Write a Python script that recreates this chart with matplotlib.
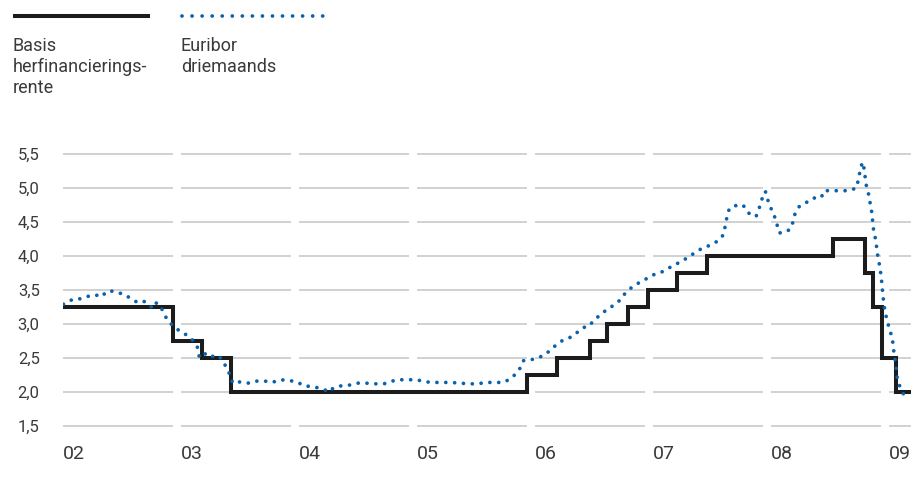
import matplotlib
matplotlib.use("Agg")
import matplotlib.pyplot as plt
from matplotlib.lines import Line2D

plt.rcParams['font.family'] = ['Roboto', 'DejaVu Sans']

# Basis herfinancieringsrente (stappen), jaar als decimaal
refi_x = [2002.0, 2002.930, 2003.175, 2003.424, 2005.930, 2006.184, 2006.462,
          2006.607, 2006.785, 2006.955, 2007.201, 2007.455, 2008.528, 2008.797,
          2008.867, 2008.943, 2009.059, 2009.19]
refi_y = [3.25, 2.75, 2.50, 2.00, 2.25, 2.50, 2.75, 3.00, 3.25, 3.50, 3.75,
          4.00, 4.25, 3.75, 3.25, 2.50, 2.00, 2.00]

# Euribor driemaands
eur_x = [2002.003, 2002.045, 2002.093, 2002.153, 2002.218, 2002.271, 2002.328,
         2002.364, 2002.398, 2002.460, 2002.517, 2002.568, 2002.616, 2002.667,
         2002.718, 2002.760, 2002.788, 2002.825, 2002.850, 2002.884, 2002.921,
         2002.958, 2002.997, 2003.059, 2003.104, 2003.138, 2003.153, 2003.181,
         2003.209, 2003.254, 2003.314, 2003.350, 2003.381, 2003.415, 2003.438,
         2003.506, 2003.574, 2003.636, 2003.712, 2003.771, 2003.842, 2003.910,
         2003.981, 2004.042, 2004.108, 2004.164, 2004.220, 2004.254, 2004.291,
         2004.356, 2004.424, 2004.494, 2004.568, 2004.644, 2004.720, 2004.786,
         2004.856, 2004.926, 2004.997, 2005.068, 2005.138, 2005.214, 2005.288,
         2005.364, 2005.441, 2005.511, 2005.585, 2005.661, 2005.731, 2005.788,
         2005.833, 2005.873, 2005.901, 2005.958, 2006.019, 2006.079, 2006.133,
         2006.184, 2006.235, 2006.269, 2006.319, 2006.367, 2006.415, 2006.460,
         2006.500, 2006.559, 2006.613, 2006.672, 2006.726, 2006.763, 2006.814,
         2006.875, 2006.938, 2006.997, 2007.059, 2007.121, 2007.181, 2007.243,
         2007.303, 2007.358, 2007.421, 2007.489, 2007.548, 2007.596, 2007.613,
         2007.627, 2007.647, 2007.701, 2007.743, 2007.780, 2007.816, 2007.873,
         2007.901, 2007.921, 2007.952, 2007.969, 2007.992, 2008.020, 2008.048,
         2008.059, 2008.070, 2008.104, 2008.161, 2008.184, 2008.203, 2008.240,
         2008.302, 2008.353, 2008.426, 2008.449, 2008.514, 2008.585, 2008.661,
         2008.723, 2008.740, 2008.754, 2008.774, 2008.791, 2008.799, 2008.811,
         2008.831, 2008.842, 2008.856, 2008.862, 2008.871, 2008.890, 2008.896,
         2008.909, 2008.924, 2008.932, 2008.941, 2008.947, 2008.956, 2008.969,
         2008.986, 2009.008, 2009.028, 2009.037, 2009.059, 2009.065, 2009.085,
         2009.116, 2009.150]
eur_y = [3.29, 3.33, 3.37, 3.37, 3.41, 3.43, 3.40, 3.47, 3.49, 3.46, 3.44, 3.38,
         3.33, 3.35, 3.30, 3.23, 3.31, 3.27, 3.17, 3.06, 2.99, 2.94, 2.88, 2.83,
         2.75, 2.66, 2.53, 2.50, 2.57, 2.52, 2.54, 2.47, 2.37, 2.25, 2.13, 2.15,
         2.13, 2.16, 2.16, 2.14, 2.18, 2.17, 2.15, 2.09, 2.08, 2.06, 2.03, 2.00,
         2.06, 2.09, 2.10, 2.13, 2.13, 2.12, 2.12, 2.16, 2.18, 2.18, 2.18, 2.15,
         2.14, 2.14, 2.14, 2.13, 2.12, 2.12, 2.14, 2.14, 2.14, 2.19, 2.26, 2.35,
         2.46, 2.47, 2.50, 2.54, 2.62, 2.70, 2.76, 2.78, 2.82, 2.89, 2.95, 2.97,
         3.06, 3.14, 3.22, 3.28, 3.36, 3.45, 3.53, 3.60, 3.66, 3.72, 3.75, 3.81,
         3.87, 3.92, 3.99, 4.05, 4.12, 4.16, 4.22, 4.31, 4.45, 4.58, 4.70, 4.74,
         4.76, 4.72, 4.62, 4.58, 4.71, 4.83, 4.95, 4.84, 4.73, 4.62, 4.50, 4.37,
         4.34, 4.34, 4.39, 4.49, 4.62, 4.73, 4.79, 4.85, 4.86, 4.96, 4.96, 4.96,
         4.96, 5.00, 5.12, 5.25, 5.38, 5.27, 5.13, 5.00, 4.88, 4.75, 4.62, 4.49,
         4.35, 4.22, 4.09, 3.96, 3.82, 3.70, 3.57, 3.44, 3.29, 3.16, 3.03, 2.90,
         2.79, 2.64, 2.38, 2.24, 2.11, 1.99, 1.88]

y_ticks = [1.5, 2.0, 2.5, 3.0, 3.5, 4.0, 4.5, 5.0, 5.5]
y_labels = ['1,5', '2,0', '2,5', '3,0', '3,5', '4,0', '4,5', '5,0', '5,5']
years = [2002, 2003, 2004, 2005, 2006, 2007, 2008, 2009]
year_labels = ['02', '03', '04', '05', '06', '07', '08', '09']

text_col = '#3a3a3a'
black = '#1c1c1c'
blue = '#0a62ad'

fig = plt.figure(figsize=(9.11, 4.85), dpi=100)
ax = fig.add_axes([0.0692, 0.1056, 0.9308, 0.5889])
ax.set_xlim(2002.0, 2009.186)
ax.set_ylim(1.4, 5.6)

# gridlijnen per jaar, met kleine onderbreking voor elk nieuw jaar
for yv in y_ticks:
    for yr in years:
        ax.plot([yr, min(yr + 0.932, 2009.186)], [yv, yv], color='#c9c9c9',
                lw=1.2, zorder=1, solid_capstyle='butt')

ax.plot(refi_x, refi_y, drawstyle='steps-post', color=black, lw=2.9,
        zorder=2, solid_joinstyle='miter')
ax.plot(eur_x, eur_y, color=blue, lw=2.7, linestyle=(0, (0.01, 2.35)),
        dash_capstyle='round', zorder=3)

for sp in ax.spines.values():
    sp.set_visible(False)
ax.set_xticks([])
ax.set_yticks([])

for yv, lab in zip(y_ticks, y_labels):
    ax.text(-0.0275, yv, lab, transform=ax.get_yaxis_transform(), ha='right',
            va='center', fontsize=12, color=text_col)
for yr, lab in zip(years, year_labels):
    ax.text(yr, -0.07, lab, transform=ax.get_xaxis_transform(), ha='left',
            va='center', fontsize=14, color=text_col)

# legenda
H = 485.0
W = 911.0
fig.add_artist(Line2D([13 / W, 150 / W], [1 - 17 / H, 1 - 17 / H], color=black,
                      lw=2.9, solid_capstyle='butt'))
fig.add_artist(Line2D([182 / W, 324 / W], [1 - 17 / H, 1 - 17 / H], color=blue,
                      lw=2.7, linestyle=(0, (0.01, 2.67)), dash_capstyle='round'))
fig.text(13 / W, 1 - 37 / H, 'Basis\nherfinancierings-\nrente', ha='left',
         va='top', fontsize=13, color=text_col, linespacing=1.2)
fig.text(181 / W, 1 - 37 / H, 'Euribor\ndriemaands', ha='left', va='top',
         fontsize=13, color=text_col, linespacing=1.2)

fig.savefig('out.png', dpi=100)
